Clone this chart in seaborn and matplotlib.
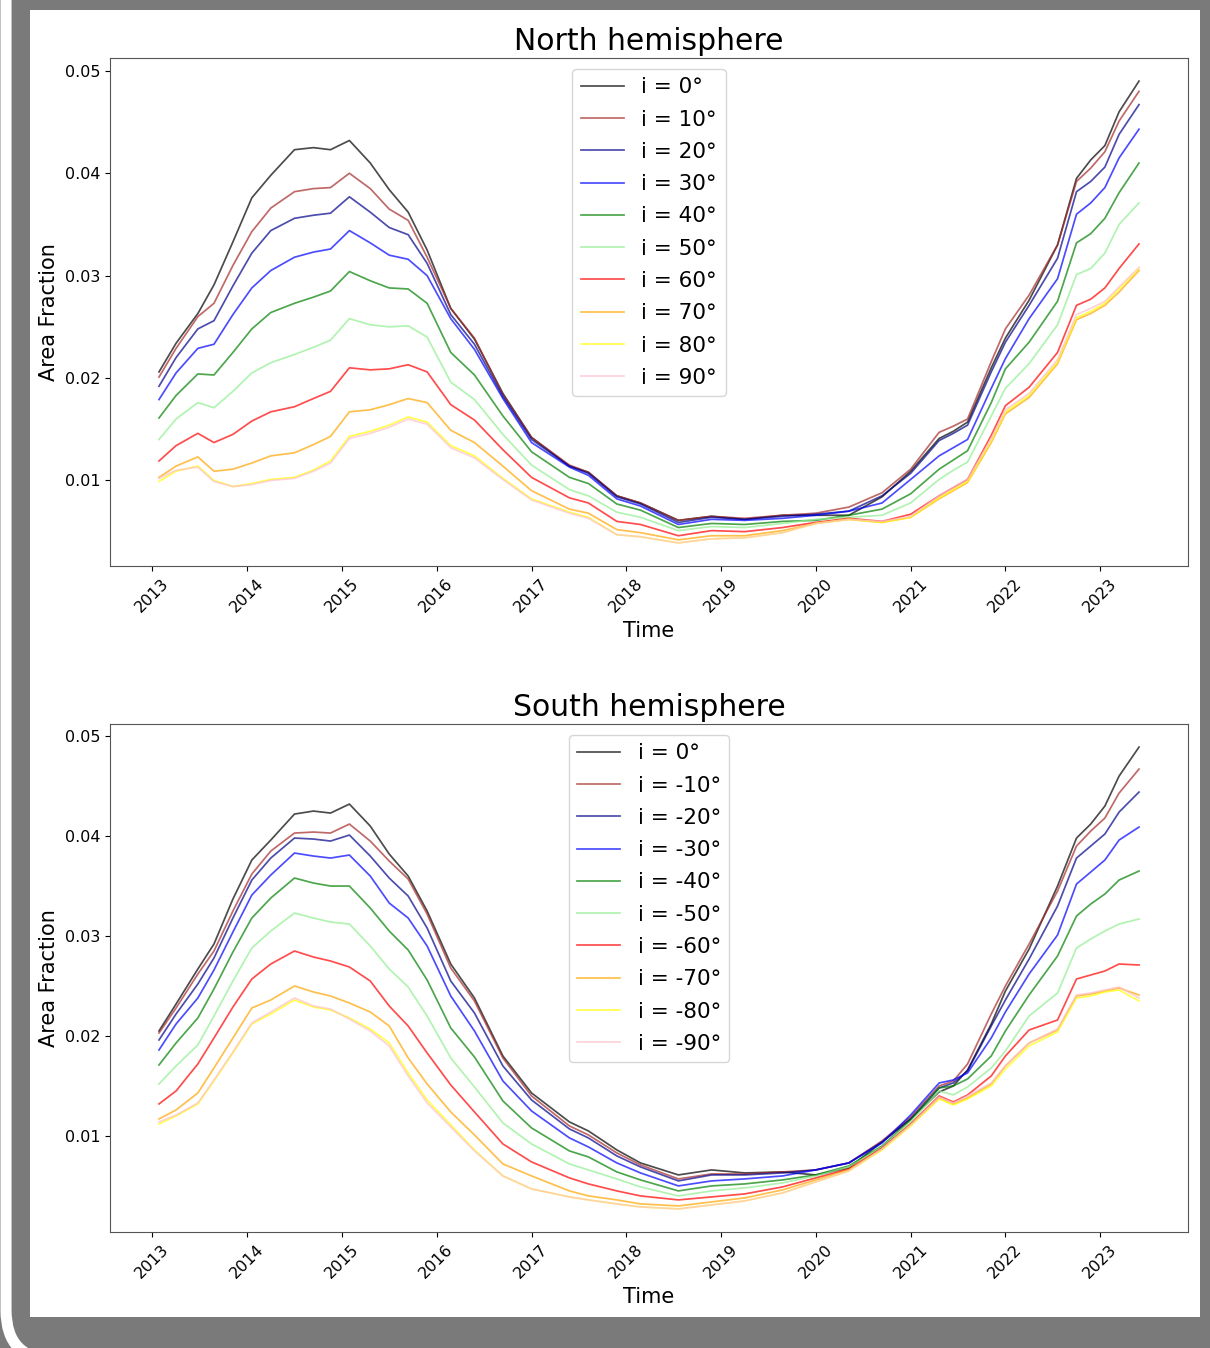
import numpy as np
import pandas as pd
import matplotlib
matplotlib.use("Agg")
import matplotlib.pyplot as plt
import matplotlib.dates as mdates
import matplotlib.patches as mpatches
import matplotlib.transforms as mtransforms
import seaborn as sns

# ---------------- data ----------------
years = [2013.07, 2013.25, 2013.48, 2013.65, 2013.85, 2014.05, 2014.25, 2014.5, 2014.7, 2014.88,
         2015.08, 2015.3, 2015.5, 2015.7, 2015.9, 2016.15, 2016.4, 2016.7, 2017.0, 2017.4,
         2017.6, 2017.9, 2018.15, 2018.55, 2018.9, 2019.25, 2019.65, 2020.0, 2020.35, 2020.7,
         2021.0, 2021.3, 2021.45, 2021.6, 2021.85, 2022.0, 2022.25, 2022.55, 2022.75, 2022.9,
         2023.05, 2023.2, 2023.41]

north_labels = ["i = 0°", "i = 10°", "i = 20°", "i = 30°", "i = 40°",
                "i = 50°", "i = 60°", "i = 70°", "i = 80°", "i = 90°"]
south_labels = ["i = 0°", "i = -10°", "i = -20°", "i = -30°", "i = -40°",
                "i = -50°", "i = -60°", "i = -70°", "i = -80°", "i = -90°"]
line_colors = ["black", "brown", "darkblue", "blue", "green",
               "lightgreen", "red", "orange", "yellow", "pink"]

north_0 = [0.0206, 0.0234, 0.0263, 0.0291, 0.0333, 0.0376, 0.0398, 0.0423, 0.0425, 0.0423,
           0.0432, 0.0410, 0.0384, 0.0362, 0.0325, 0.0268, 0.0238, 0.0185, 0.0142, 0.0114,
           0.0108, 0.0085, 0.0078, 0.0061, 0.0065, 0.0062, 0.0066, 0.0066, 0.0066, 0.0084,
           0.0109, 0.0141, 0.0148, 0.0157, 0.0210, 0.0239, 0.0276, 0.0330, 0.0395, 0.0413,
           0.0427, 0.0460, 0.0490]
north_10 = [0.0201, 0.0229, 0.0260, 0.0273, 0.0310, 0.0343, 0.0366, 0.0382, 0.0385, 0.0386,
            0.0400, 0.0385, 0.0365, 0.0354, 0.0318, 0.0268, 0.0239, 0.0184, 0.0142, 0.0115,
            0.0108, 0.0085, 0.0078, 0.0061, 0.0065, 0.0063, 0.0066, 0.0068, 0.0074, 0.0088,
            0.0111, 0.0147, 0.0153, 0.0160, 0.0216, 0.0248, 0.0281, 0.0330, 0.0392, 0.0405,
            0.0421, 0.0451, 0.0480]
north_20 = [0.0192, 0.0220, 0.0248, 0.0256, 0.0290, 0.0322, 0.0344, 0.0356, 0.0359, 0.0361,
            0.0377, 0.0362, 0.0347, 0.0340, 0.0312, 0.0262, 0.0233, 0.0182, 0.0140, 0.0114,
            0.0107, 0.0084, 0.0077, 0.0059, 0.0064, 0.0062, 0.0065, 0.0067, 0.0070, 0.0085,
            0.0107, 0.0139, 0.0146, 0.0154, 0.0206, 0.0235, 0.0271, 0.0317, 0.0382, 0.0392,
            0.0406, 0.0438, 0.0467]
north_30 = [0.0179, 0.0205, 0.0229, 0.0233, 0.0262, 0.0288, 0.0305, 0.0318, 0.0323, 0.0326,
            0.0344, 0.0332, 0.0320, 0.0316, 0.0300, 0.0258, 0.0228, 0.0180, 0.0137, 0.0113,
            0.0105, 0.0082, 0.0075, 0.0057, 0.0062, 0.0061, 0.0063, 0.0066, 0.0070, 0.0078,
            0.0101, 0.0124, 0.0132, 0.0140, 0.0190, 0.0219, 0.0258, 0.0297, 0.0360, 0.0371,
            0.0386, 0.0415, 0.0443]
north_40 = [0.0161, 0.0183, 0.0204, 0.0203, 0.0225, 0.0248, 0.0264, 0.0273, 0.0279, 0.0285,
            0.0304, 0.0295, 0.0288, 0.0287, 0.0273, 0.0225, 0.0203, 0.0163, 0.0128, 0.0103,
            0.0097, 0.0077, 0.0071, 0.0054, 0.0058, 0.0057, 0.0060, 0.0061, 0.0066, 0.0072,
            0.0087, 0.0111, 0.0120, 0.0129, 0.0176, 0.0209, 0.0235, 0.0275, 0.0332, 0.0341,
            0.0356, 0.0381, 0.0410]
north_50 = [0.0140, 0.0160, 0.0176, 0.0171, 0.0187, 0.0205, 0.0215, 0.0223, 0.0230, 0.0237,
            0.0258, 0.0252, 0.0250, 0.0251, 0.0240, 0.0196, 0.0179, 0.0145, 0.0115, 0.0091,
            0.0085, 0.0069, 0.0064, 0.0051, 0.0055, 0.0054, 0.0058, 0.0062, 0.0064, 0.0066,
            0.0078, 0.0101, 0.0110, 0.0118, 0.0163, 0.0190, 0.0214, 0.0252, 0.0301, 0.0307,
            0.0322, 0.0350, 0.0371]
north_60 = [0.0119, 0.0134, 0.0146, 0.0137, 0.0145, 0.0158, 0.0167, 0.0172, 0.0180, 0.0187,
            0.0210, 0.0208, 0.0209, 0.0213, 0.0206, 0.0174, 0.0159, 0.0130, 0.0103, 0.0083,
            0.0078, 0.0060, 0.0057, 0.0046, 0.0051, 0.0050, 0.0054, 0.0059, 0.0063, 0.0060,
            0.0067, 0.0085, 0.0093, 0.0101, 0.0144, 0.0173, 0.0191, 0.0225, 0.0271, 0.0277,
            0.0288, 0.0307, 0.0331]
north_70 = [0.0103, 0.0114, 0.0123, 0.0109, 0.0111, 0.0117, 0.0124, 0.0127, 0.0135, 0.0143,
            0.0167, 0.0169, 0.0174, 0.0180, 0.0176, 0.0149, 0.0137, 0.0114, 0.0090, 0.0072,
            0.0068, 0.0052, 0.0049, 0.0042, 0.0046, 0.0046, 0.0051, 0.0058, 0.0062, 0.0059,
            0.0064, 0.0082, 0.0090, 0.0098, 0.0137, 0.0165, 0.0181, 0.0214, 0.0257, 0.0263,
            0.0271, 0.0284, 0.0305]
north_80 = [0.0099, 0.0109, 0.0114, 0.0100, 0.0094, 0.0097, 0.0101, 0.0103, 0.0110, 0.0119,
            0.0143, 0.0148, 0.0154, 0.0162, 0.0157, 0.0134, 0.0124, 0.0102, 0.0082, 0.0069,
            0.0064, 0.0047, 0.0045, 0.0039, 0.0043, 0.0044, 0.0049, 0.0058, 0.0062, 0.0059,
            0.0064, 0.0083, 0.0091, 0.0099, 0.0139, 0.0167, 0.0183, 0.0216, 0.0259, 0.0265,
            0.0273, 0.0287, 0.0307]
north_90 = [0.0102, 0.0110, 0.0113, 0.0099, 0.0094, 0.0096, 0.0100, 0.0102, 0.0109, 0.0117,
            0.0141, 0.0146, 0.0152, 0.0160, 0.0155, 0.0132, 0.0122, 0.0101, 0.0081, 0.0068,
            0.0063, 0.0047, 0.0045, 0.0039, 0.0043, 0.0044, 0.0049, 0.0058, 0.0062, 0.0060,
            0.0065, 0.0085, 0.0093, 0.0101, 0.0141, 0.0169, 0.0185, 0.0218, 0.0262, 0.0268,
            0.0275, 0.0289, 0.0308]

south_0 = [0.0205, 0.0232, 0.0267, 0.0292, 0.0337, 0.0376, 0.0396, 0.0422, 0.0425, 0.0423,
           0.0432, 0.0410, 0.0382, 0.0360, 0.0325, 0.0272, 0.0238, 0.0180, 0.0143, 0.0114,
           0.0105, 0.0086, 0.0073, 0.0061, 0.0066, 0.0063, 0.0064, 0.0061, 0.0068, 0.0094,
           0.0117, 0.0144, 0.0150, 0.0166, 0.0212, 0.0245, 0.0287, 0.0350, 0.0398, 0.0412,
           0.0430, 0.0460, 0.0489]
south_10 = [0.0203, 0.0228, 0.0262, 0.0285, 0.0325, 0.0362, 0.0385, 0.0403, 0.0404, 0.0403,
            0.0412, 0.0395, 0.0375, 0.0357, 0.0322, 0.0268, 0.0235, 0.0178, 0.0140, 0.0110,
            0.0101, 0.0083, 0.0071, 0.0057, 0.0062, 0.0062, 0.0064, 0.0066, 0.0073, 0.0095,
            0.0119, 0.0150, 0.0155, 0.0172, 0.0222, 0.0250, 0.0292, 0.0345, 0.0390, 0.0405,
            0.0418, 0.0443, 0.0467]
south_20 = [0.0196, 0.0222, 0.0252, 0.0278, 0.0318, 0.0356, 0.0378, 0.0398, 0.0397, 0.0395,
            0.0401, 0.0380, 0.0358, 0.0340, 0.0308, 0.0255, 0.0223, 0.0170, 0.0136, 0.0107,
            0.0098, 0.0080, 0.0069, 0.0055, 0.0061, 0.0061, 0.0063, 0.0066, 0.0073, 0.0094,
            0.0117, 0.0148, 0.0153, 0.0165, 0.0210, 0.0236, 0.0277, 0.0330, 0.0378, 0.0390,
            0.0402, 0.0424, 0.0444]
south_30 = [0.0186, 0.0212, 0.0238, 0.0266, 0.0304, 0.0341, 0.0361, 0.0383, 0.0380, 0.0378,
            0.0381, 0.0360, 0.0333, 0.0318, 0.0290, 0.0240, 0.0205, 0.0155, 0.0125, 0.0098,
            0.0089, 0.0073, 0.0063, 0.0050, 0.0055, 0.0057, 0.0060, 0.0066, 0.0073, 0.0093,
            0.0121, 0.0153, 0.0156, 0.0163, 0.0198, 0.0224, 0.0262, 0.0301, 0.0352, 0.0364,
            0.0376, 0.0396, 0.0409]
south_40 = [0.0171, 0.0193, 0.0218, 0.0247, 0.0284, 0.0318, 0.0338, 0.0358, 0.0353, 0.0350,
            0.0350, 0.0328, 0.0305, 0.0286, 0.0256, 0.0208, 0.0179, 0.0135, 0.0108, 0.0085,
            0.0079, 0.0064, 0.0056, 0.0045, 0.0050, 0.0052, 0.0056, 0.0061, 0.0070, 0.0090,
            0.0116, 0.0148, 0.0150, 0.0157, 0.0180, 0.0205, 0.0241, 0.0280, 0.0320, 0.0332,
            0.0342, 0.0356, 0.0365]
south_50 = [0.0152, 0.0170, 0.0191, 0.0220, 0.0255, 0.0288, 0.0305, 0.0323, 0.0318, 0.0314,
            0.0312, 0.0290, 0.0267, 0.0249, 0.0220, 0.0178, 0.0149, 0.0113, 0.0092, 0.0072,
            0.0066, 0.0057, 0.0049, 0.0040, 0.0045, 0.0048, 0.0053, 0.0060, 0.0069, 0.0089,
            0.0114, 0.0145, 0.0141, 0.0149, 0.0168, 0.0185, 0.0220, 0.0243, 0.0288, 0.0297,
            0.0305, 0.0312, 0.0317]
south_60 = [0.0132, 0.0145, 0.0172, 0.0198, 0.0229, 0.0257, 0.0272, 0.0285, 0.0279, 0.0275,
            0.0269, 0.0255, 0.0230, 0.0210, 0.0183, 0.0151, 0.0124, 0.0092, 0.0074, 0.0058,
            0.0052, 0.0045, 0.0040, 0.0036, 0.0039, 0.0042, 0.0049, 0.0058, 0.0067, 0.0088,
            0.0112, 0.0140, 0.0134, 0.0141, 0.0160, 0.0180, 0.0206, 0.0216, 0.0257, 0.0261,
            0.0265, 0.0272, 0.0271]
south_70 = [0.0117, 0.0126, 0.0143, 0.0168, 0.0198, 0.0228, 0.0236, 0.0250, 0.0244, 0.0240,
            0.0233, 0.0224, 0.0210, 0.0178, 0.0152, 0.0124, 0.0101, 0.0072, 0.0060, 0.0045,
            0.0040, 0.0036, 0.0032, 0.0030, 0.0034, 0.0038, 0.0046, 0.0056, 0.0066, 0.0087,
            0.0111, 0.0138, 0.0132, 0.0138, 0.0152, 0.0170, 0.0193, 0.0206, 0.0240, 0.0242,
            0.0245, 0.0248, 0.0241]
south_80 = [0.0112, 0.0120, 0.0132, 0.0155, 0.0183, 0.0212, 0.0222, 0.0236, 0.0229, 0.0226,
            0.0218, 0.0207, 0.0193, 0.0163, 0.0136, 0.0111, 0.0086, 0.0060, 0.0047, 0.0039,
            0.0036, 0.0032, 0.0029, 0.0027, 0.0031, 0.0035, 0.0043, 0.0054, 0.0065, 0.0086,
            0.0110, 0.0137, 0.0131, 0.0137, 0.0150, 0.0167, 0.0190, 0.0204, 0.0238, 0.0240,
            0.0244, 0.0246, 0.0235]
south_90 = [0.0114, 0.0121, 0.0133, 0.0156, 0.0184, 0.0213, 0.0224, 0.0238, 0.0230, 0.0227,
            0.0217, 0.0205, 0.0190, 0.0160, 0.0133, 0.0109, 0.0085, 0.0060, 0.0047, 0.0039,
            0.0036, 0.0032, 0.0029, 0.0027, 0.0031, 0.0035, 0.0043, 0.0054, 0.0065, 0.0087,
            0.0111, 0.0139, 0.0133, 0.0140, 0.0153, 0.0170, 0.0193, 0.0207, 0.0241, 0.0243,
            0.0246, 0.0249, 0.0238]

north_series = [north_0, north_10, north_20, north_30, north_40,
                north_50, north_60, north_70, north_80, north_90]
south_series = [south_0, south_10, south_20, south_30, south_40,
                south_50, south_60, south_70, south_80, south_90]

# decimal years -> timestamps
def to_dates(ys):
    out = []
    for y in ys:
        yr = int(np.floor(y))
        start = pd.Timestamp(year=yr, month=1, day=1)
        out.append(start + pd.Timedelta(days=(y - yr) * 365.25))
    return out

dates = to_dates(years)


def long_frame(labels, series):
    rows = []
    for lab, vals in zip(labels, series):
        rows.append(pd.DataFrame({"Time": dates, "Area Fraction": vals, "label": lab}))
    return pd.concat(rows, ignore_index=True)


# ---------------- figure ----------------
W, H = 1210, 1348
fig = plt.figure(figsize=(W / 100, H / 100), dpi=100)
fig.patch.set_facecolor("#7a7a7a")

# white page area
fig.patches.append(mpatches.Rectangle((30 / W, (H - 1317) / H), 1170 / W, 1307 / H,
                                      transform=fig.transFigure, facecolor="white",
                                      edgecolor="none", zorder=-5))
# white rounded stroke of the frame (display pixels)
fig.patches.append(mpatches.FancyBboxPatch((6, -12), 1400, 1500,
                                           boxstyle="round,pad=0,rounding_size=50",
                                           transform=mtransforms.IdentityTransform(),
                                           facecolor="none", edgecolor="white",
                                           linewidth=8, zorder=-5))

ax_n = fig.add_axes([110 / W, (H - 566) / H, 1078 / W, 508 / H])
ax_s = fig.add_axes([110 / W, (H - 1232) / H, 1078 / W, 508 / H])

panels = [(ax_n, north_labels, north_series, "North hemisphere"),
          (ax_s, south_labels, south_series, "South hemisphere")]

for ax, labels, series, title in panels:
    df = long_frame(labels, series)
    pal = dict(zip(labels, line_colors))
    sns.lineplot(data=df, x="Time", y="Area Fraction", hue="label", hue_order=labels,
                 palette=pal, alpha=0.7, linewidth=1.25, ax=ax, sort=True)
    handles, labs = ax.get_legend_handles_labels()
    ax.legend(handles, labs, loc="upper center", fontsize=15.5, framealpha=0.8,
              handlelength=2.0, labelspacing=0.57)
    ax.set_title(title, fontsize=21.5, pad=6)
    ax.set_xlabel("Time", fontsize=15)
    ax.set_ylabel("Area Fraction", fontsize=15)
    ax.xaxis.set_major_locator(mdates.YearLocator())
    ax.xaxis.set_major_formatter(mdates.DateFormatter("%Y"))
    ax.tick_params(axis="both", labelsize=11.5)
    for lbl in ax.get_xticklabels():
        lbl.set_rotation(45)
        lbl.set_ha("center")
    ax.set_yticks([0.01, 0.02, 0.03, 0.04, 0.05])
    ax.set_yticklabels(["0.01", "0.02", "0.03", "0.04", "0.05"])
    for sp in ax.spines.values():
        sp.set_color("#555555")

fig.savefig("out.png", dpi=100, facecolor=fig.get_facecolor())
